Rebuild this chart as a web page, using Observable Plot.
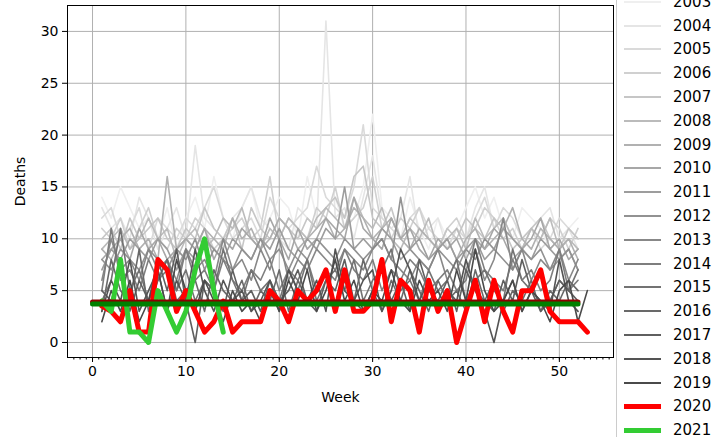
<!DOCTYPE html>
<html><head><meta charset="utf-8">
<script src="https://cdn.jsdelivr.net/npm/d3@7"></script>
<script src="https://cdn.jsdelivr.net/npm/@observablehq/plot@0.6"></script>
<style>
body{margin:0;background:#fff;font-family:"DejaVu Sans",sans-serif;overflow:hidden}
#wrap{position:relative;width:715px;height:437px}
#legend{position:absolute;left:616px;top:-11px;width:103px;border-left:1px solid #ccc;border-top:1px solid #ccc;background:#fff}
.it{display:flex;align-items:center;height:23.8px;font-size:15px;color:#000}
.sw{width:37px;margin:0 12px 0 7px}
</style></head>
<body><div id="wrap"><div id="chart"></div><div id="legend"></div></div>
<script>
const years = ["2003","2004","2005","2006","2007","2008","2009","2010","2011","2012","2013","2014","2015","2016","2017","2018","2019"];
const s2003 = [14,12,15,13,11,12,10,13,9,12,14,11,16,12,10,13,15,11,12,14,13,10,16,12,13,14,11,12,15,22,13,12,10,14,11,9,12,10,11,13,15,12,14,11,10,13,12,11,9,10,11,12];
const s2004 = [13,11,12,10,14,12,9,11,13,10,19,12,11,10,12,13,15,12,11,10,9,13,12,11,31,12,13,10,14,18,12,11,12,16,10,11,12,9,11,10,13,15,11,12,10,9,11,12,13,10,11,9];
const s2005 = [12,13,10,11,13,9,12,11,10,12,11,13,15,12,10,11,12,10,14,12,11,12,13,17,14,13,12,15,21,13,12,11,10,12,13,11,10,9,11,10,12,14,11,13,12,10,11,9,10,12,11,10];
const s2006 = [11,10,12,9,11,13,10,9,11,10,12,11,9,10,11,12,10,11,16,10,12,11,10,13,12,15,11,12,13,16,11,10,12,11,13,10,9,11,12,10,11,13,12,10,11,9,11,10,12,11,9,11];
const s2007 = [10,11,9,12,10,11,12,10,9,11,10,13,11,10,12,9,13,11,10,12,11,10,12,11,13,14,12,16,17,12,11,13,10,12,11,10,9,11,10,12,11,10,12,11,9,10,11,12,10,9,11,10];
const s2008 = [9,10,11,9,10,12,10,11,8,10,11,9,10,12,11,13,10,9,11,10,12,11,10,12,13,12,11,14,12,11,13,10,9,11,10,12,9,10,11,9,12,10,11,12,10,9,11,10,12,9,10,9];
const s2009 = [9,8,10,11,9,10,8,16,9,10,9,11,10,9,12,10,11,9,10,12,11,9,10,11,12,10,11,13,12,10,11,12,10,9,11,10,9,10,8,10,11,9,10,11,13,10,9,11,10,9,10,8];
const s2010 = [8,9,10,8,11,9,10,8,9,10,9,11,8,10,9,11,10,9,12,10,8,11,9,10,12,11,10,14,11,10,9,12,10,11,9,8,10,9,10,8,10,9,11,10,8,9,10,12,9,10,8,9];
const s2011 = [7,9,8,10,9,8,10,9,7,9,8,10,9,8,10,9,8,10,9,11,9,8,10,9,11,10,15,9,10,9,11,10,8,9,10,8,9,10,8,9,10,8,9,11,10,9,8,10,9,8,9,7];
const s2012 = [8,7,9,8,7,9,8,7,9,8,10,7,9,8,7,9,8,10,8,9,7,9,8,10,9,8,10,9,8,9,10,8,14,9,8,7,9,8,7,9,8,10,9,8,7,9,8,9,7,8,9,7];
const s2013 = [6,10,7,8,6,9,7,8,6,9,7,8,6,10,7,8,6,9,7,10,6,8,7,9,8,7,9,8,7,9,10,8,7,6,8,7,9,6,8,7,9,6,8,12,7,9,6,8,7,9,6,8];
const s2014 = [5,11,6,7,5,8,6,7,5,9,6,7,5,8,6,5,7,6,8,5,7,6,8,5,7,6,9,7,6,8,5,7,6,8,7,5,6,7,5,6,10,7,6,5,8,6,7,5,6,9,5,6];
const s2015 = [4,6,11,5,7,4,6,8,5,7,4,6,5,9,6,4,7,5,6,4,7,5,8,4,6,7,5,8,4,6,7,9,5,6,4,7,5,6,8,4,6,7,5,4,9,6,5,7,4,6,5,7];
const s2016 = [3,8,5,4,9,3,6,8,4,5,6,3,7,5,4,6,3,5,4,7,3,6,4,5,7,3,6,4,8,5,3,6,4,7,5,3,6,4,5,3,7,4,6,3,5,4,6,3,5,4,6,5];
const s2017 = [5,4,7,3,6,4,8,5,9,4,0,6,5,3,7,4,5,3,6,4,5,7,4,3,6,5,8,4,3,5,7,4,6,3,8,5,4,6,3,7,5,4,3,6,4,8,5,3,4,6,5,4];
const s2018 = [3,6,4,8,3,5,7,3,6,4,9,5,3,6,4,5,3,4,6,3,7,5,4,6,3,9,5,4,6,7,3,5,9,7,4,6,3,5,4,8,5,3,0,4,6,3,5,4,3,8,4,3];
const s2019 = [2,5,3,6,2,4,7,3,8,5,3,6,4,2,5,3,4,2,5,3,6,4,7,3,5,8,4,6,3,5,4,7,4,3,6,4,5,3,7,4,9,5,3,4,6,3,5,4,2,5,6,2,5];
const greys = [s2003,s2004,s2005,s2006,s2007,s2008,s2009,s2010,s2011,s2012,s2013,s2014,s2015,s2016,s2017,s2018,s2019];
const s2020 = [3.5,3,2,5,1,1,8,7,3,5,3,1,2,4,1,2,2,2,5,4,2,5,4,5,7,3,7,3,3,4,8,2,6,5,1,6,3,5,0,3,6,2,6,3,1,5,5,7,3,2,2,2,1];
const s2021 = [4,3,8,1,1,0,5,3,1,3,7,10,5,1];
const mean2020 = 3.9, mean2021 = 3.7;

const rows = [];
greys.forEach((arr, i) => arr.forEach((v, w) => rows.push({year: years[i], i, week: w + 1, v})));
const shade = i => d3.interpolateRgb("#efefef", "#4a4a4a")(i / (years.length - 1));
const red = s2020.map((v, w) => ({week: w + 1, v}));
const green = s2021.map((v, w) => ({week: w + 1, v}));
const weeks52 = d3.range(0, 53);

const chart = Plot.plot({
  width: 616, height: 415,
  marginLeft: 67, marginRight: 3, marginTop: 5, marginBottom: 58,
  style: {fontFamily: "DejaVu Sans", fontSize: "14px", color: "#000"},
  x: {domain: [-2.68, 55.8], label: null},
  y: {domain: [-1.45, 32.5], label: null},
  marks: [
    Plot.gridX([0,10,20,30,40,50], {stroke: "#b0b0b0", strokeOpacity: 1}),
    Plot.gridY([0,5,10,15,20,25,30], {stroke: "#b0b0b0", strokeOpacity: 1}),
    ...years.map((y, i) => Plot.line(rows.filter(d => d.i === i), {x: "week", y: "v", stroke: shade(i), strokeWidth: 1.6})),
    Plot.line(red, {x: "week", y: "v", stroke: "#ff0000", strokeWidth: 5}),
    Plot.line(green, {x: "week", y: "v", stroke: "#33cc33", strokeWidth: 5}),
    Plot.line(weeks52, {x: d => d, y: () => mean2020, stroke: "#8b0000", strokeWidth: 5}),
    Plot.line(weeks52, {x: d => d, y: () => mean2021, stroke: "#008000", strokeWidth: 5}),
    Plot.frame({stroke: "#000"}),
    Plot.axisX({ticks: [0,10,20,30,40,50], tickSize: 5, fontSize: 14, label: "Week", labelAnchor: "center", labelArrow: "none", labelOffset: 44}),
    Plot.axisX({ticks: d3.range(-2, 56, 2/3), tickSize: 2.5, tickFormat: () => ""}),
    Plot.axisY({ticks: [0,5,10,15,20,25,30], tickSize: 5, fontSize: 14, label: "Deaths", labelAnchor: "center", labelArrow: "none", labelOffset: 52})
  ]
});
document.getElementById("chart").append(chart);

const leg = d3.select("#legend");
const items = years.map((y, i) => ({y, c: shade(i), w: 2})).concat([{y: "2020", c: "#ff0000", w: 5}, {y: "2021", c: "#33cc33", w: 5}]);
items.forEach(d => {
  const it = leg.append("div").attr("class", "it");
  it.append("div").attr("class", "sw").style("height", d.w + "px").style("background", d.c);
  it.append("span").text(d.y);
});
</script></body></html>
